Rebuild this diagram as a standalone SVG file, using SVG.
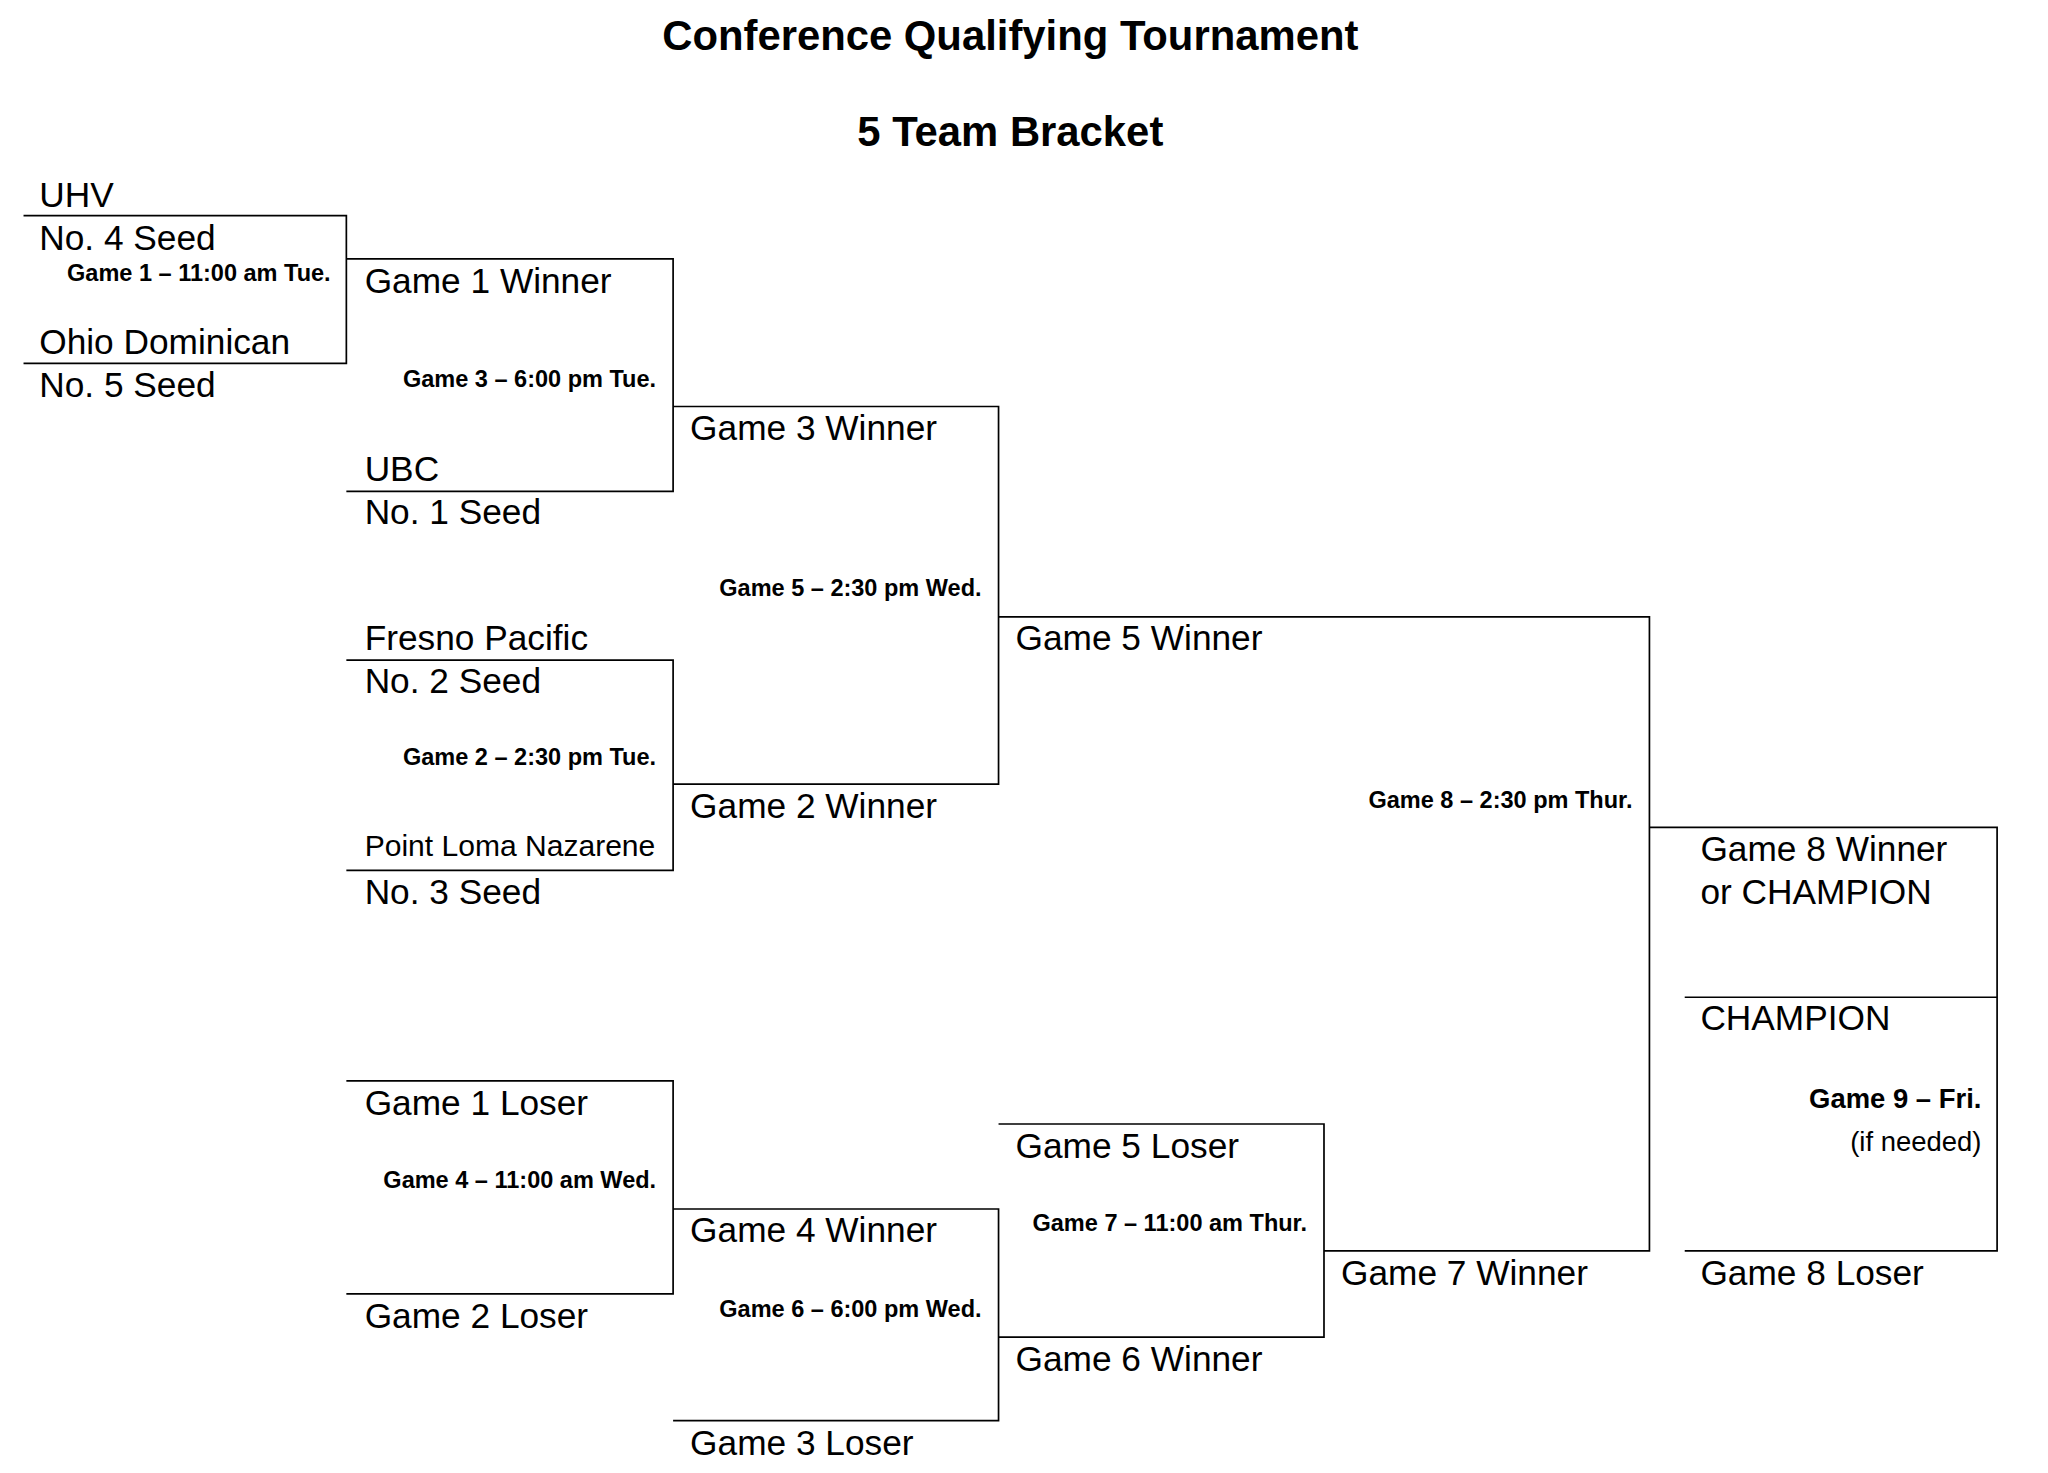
<svg xmlns="http://www.w3.org/2000/svg" width="2048" height="1473" viewBox="0 0 2048 1473">
<style>
text{font-family:"Liberation Sans",Arial,sans-serif;fill:#000}
.t{font-size:27px}
.s{font-size:18px;font-weight:bold;text-anchor:end}
.h{font-size:32px;font-weight:bold;text-anchor:middle}
#connectors path{fill:none;stroke:#000;stroke-width:1.3}
</style>
<rect width="2048" height="1473" fill="#fff"/>
<g transform="scale(1.307)">
<g id="title"><text class="h" x="773" y="38">Conference Qualifying Tournament</text><text class="h" x="773" y="112">5 Team Bracket</text></g>
<g id="connectors">
<path d="M18 165H265V278H18"/>
<path d="M265 198H515V376H265"/>
<path d="M515 311H764V600H515"/>
<path d="M265 505H515V666H265"/>
<path d="M764 472H1262V957H1013"/>
<path d="M1262 633H1528V957H1289M1289 763H1528"/>
<path d="M265 827H515V990H265"/>
<path d="M515 925H764V1087H515"/>
<path d="M764 860H1013V1023H764"/>
</g>
<g id="game1"><text class="t" x="30" y="158">UHV</text><text class="t" x="30" y="191">No. 4 Seed</text><text class="s" x="253" y="215">Game 1 – 11:00 am Tue.</text><text class="t" x="30" y="271">Ohio Dominican</text><text class="t" x="30" y="304">No. 5 Seed</text></g>
<g id="game3"><text class="t" x="279" y="224">Game 1 Winner</text><text class="s" x="502" y="296">Game 3 – 6:00 pm Tue.</text><text class="t" x="279" y="368">UBC</text><text class="t" x="279" y="401">No. 1 Seed</text></g>
<g id="game5"><text class="t" x="528" y="337">Game 3 Winner</text><text class="s" x="751" y="456">Game 5 – 2:30 pm Wed.</text><text class="t" x="528" y="626">Game 2 Winner</text></g>
<g id="game2"><text class="t" x="279" y="497">Fresno Pacific</text><text class="t" x="279" y="530">No. 2 Seed</text><text class="s" x="502" y="585">Game 2 – 2:30 pm Tue.</text><text x="279" y="655" font-size="23">Point Loma Nazarene</text><text class="t" x="279" y="692">No. 3 Seed</text></g>
<g id="game8"><text class="t" x="777" y="497">Game 5 Winner</text><text class="s" x="1249" y="618">Game 8 – 2:30 pm Thur.</text><text class="t" x="1026" y="983">Game 7 Winner</text></g>
<g id="game9"><text class="t" x="1301" y="659">Game 8 Winner</text><text class="t" x="1301" y="692">or CHAMPION</text><text class="t" x="1301" y="788">CHAMPION</text><text x="1516" y="848" font-size="21" font-weight="bold" text-anchor="end">Game 9 – Fri.</text><text x="1516" y="881" font-size="21" text-anchor="end">(if needed)</text><text class="t" x="1301" y="983">Game 8 Loser</text></g>
<g id="game4"><text class="t" x="279" y="853">Game 1 Loser</text><text class="s" x="502" y="909">Game 4 – 11:00 am Wed.</text><text class="t" x="279" y="1016">Game 2 Loser</text></g>
<g id="game6"><text class="t" x="528" y="950">Game 4 Winner</text><text class="s" x="751" y="1008">Game 6 – 6:00 pm Wed.</text><text class="t" x="528" y="1113">Game 3 Loser</text></g>
<g id="game7"><text class="t" x="777" y="886">Game 5 Loser</text><text class="s" x="1000" y="942">Game 7 – 11:00 am Thur.</text><text class="t" x="777" y="1049">Game 6 Winner</text></g>
</g>
</svg>
